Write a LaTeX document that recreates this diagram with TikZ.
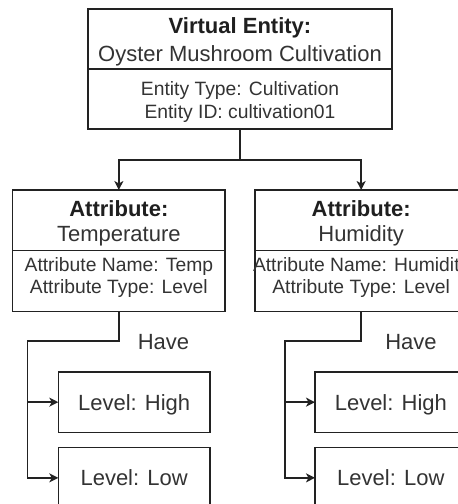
\documentclass[tikz,border=0pt]{standalone}
\usepackage{fontspec}
\setmainfont{Liberation Sans}
\usetikzlibrary{arrows.meta}
\definecolor{txt}{HTML}{333333}
\definecolor{ln}{HTML}{222222}
\begin{document}
\begin{tikzpicture}[x=1pt,y=-1pt,
  boxpart/.style={draw=ln, line width=1.4pt, inner sep=0pt, outer sep=0pt, anchor=north west},
  big/.style={font=\fontsize{22}{26}\selectfont, text=txt, anchor=base, inner sep=0pt},
  bigb/.style={font=\fontsize{22}{26}\selectfont\bfseries, text=black!88, anchor=base, inner sep=0pt},
  small/.style={font=\fontsize{19.3}{23}\selectfont, text=txt, anchor=base, inner sep=0pt},
  conn/.style={draw=ln, line width=1.4pt},
  arr/.style={conn, -{Stealth[length=9pt,width=9pt,inset=2.5pt]}}
]
\useasboundingbox (0,0) rectangle (458,504);
\clip (0,0) rectangle (458,504);

% top entity box
\node[boxpart, minimum width=304pt, minimum height=60pt] (toph) at (88,9) {};
\node[boxpart, minimum width=304pt, minimum height=60pt] (topb) at (88,69) {};
\node[bigb] (t1) at (240,33.3) {Virtual Entity:};
\node[big] (t2) at (240,61.7) {Oyster Mushroom Cultivation};
\node[small] (t3) at (240,95) {Entity Type: Cultivation};
\node[small] (t4) at (240,118.3) {Entity ID: cultivation01};

% attribute boxes
\node[boxpart, minimum width=212.3pt, minimum height=60.7pt] (tmph) at (12.7,190) {};
\node[boxpart, minimum width=212.3pt, minimum height=61pt] (tmpb) at (12.7,250.7) {};
\node[bigb] (a1) at (118.85,216.7) {Attribute:};
\node[big] (a2) at (118.85,241.7) {Temperature};
\node[small] (a3) at (118.85,271.7) {Attribute Name: Temp};
\node[small] (a4) at (118.85,293.3) {Attribute Type: Level};

\node[boxpart, minimum width=212.3pt, minimum height=60.7pt] (humh) at (255,190) {};
\node[boxpart, minimum width=212.3pt, minimum height=61pt] (humb) at (255,250.7) {};
\node[bigb] (b1) at (361.15,216.7) {Attribute:};
\node[big] (b2) at (361.15,241.7) {Humidity};
\node[small] (b3) at (361.15,271.7) {Attribute Name: Humidity};
\node[small] (b4) at (361.15,293.3) {Attribute Type: Level};

% level boxes
\node[boxpart, minimum width=151.7pt, minimum height=60.3pt] (lhighL) at (58.3,372) {};
\node[boxpart, minimum width=151.7pt, minimum height=60.3pt] (llowL) at (58.3,447.7) {};
\node[boxpart, minimum width=151.7pt, minimum height=60.3pt] (lhighR) at (315,372) {};
\node[boxpart, minimum width=151.7pt, minimum height=60.3pt] (llowR) at (315,447.7) {};
\node[big] (lh1) at (134.15,410) {Level: High};
\node[big] (ll1) at (134.15,485.7) {Level: Low};
\node[big] (lh2) at (390.85,410) {Level: High};
\node[big] (ll2) at (390.85,485.7) {Level: Low};

% connectors from entity
\coordinate (jc) at (240,160);
\draw[arr] (topb.south) -- (jc) -| (tmph.north);
\draw[arr] (jc) -| (humh.north);

% have connectors
\coordinate (hl) at (27.7,341);
\coordinate (hr) at (285,341);
\draw[arr] (tmpb.south) |- (hl) |- (lhighL.west);
\draw[arr] (hl) |- (llowL.west);
\draw[arr] (humb.south) |- (hr) |- (lhighR.west);
\draw[arr] (hr) |- (llowR.west);
\node[big] (have1) at (163.5,349.3) {Have};
\node[big] (have2) at (411,349.3) {Have};
\end{tikzpicture}
\end{document}
